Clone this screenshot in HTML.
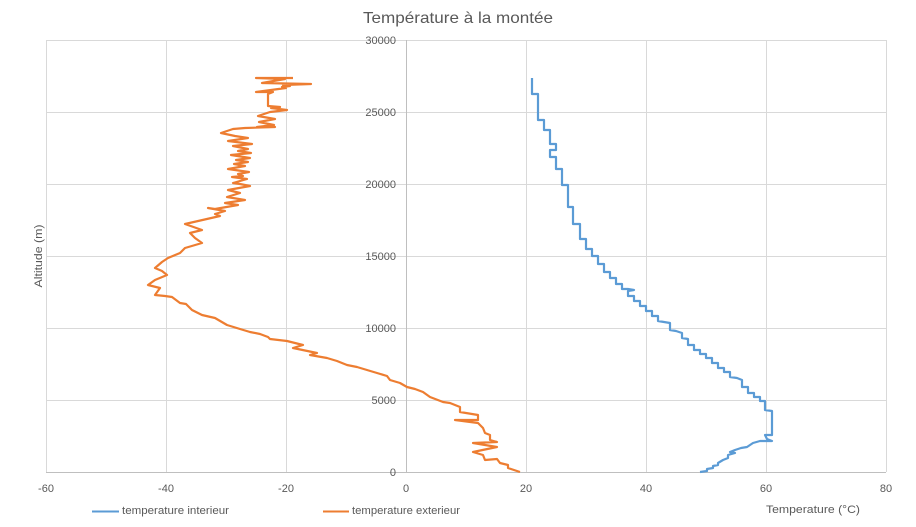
<!DOCTYPE html>
<html><head><meta charset="utf-8"><style>
html,body{margin:0;padding:0;background:#fff;}
svg{display:block;}
text{font-family:"Liberation Sans",Arial,sans-serif;fill:#595959;}
</style></head><body>
<svg width="916" height="527" viewBox="0 0 916 527" xmlns="http://www.w3.org/2000/svg">
<rect width="916" height="527" fill="#fff"/>
<text x="458" y="23" font-size="16" text-anchor="middle" textLength="190" lengthAdjust="spacingAndGlyphs">Température à la montée</text>
<g stroke="#d9d9d9" stroke-width="1" shape-rendering="crispEdges">
<line x1="46" y1="40.5" x2="886" y2="40.5"/>
<line x1="46" y1="112.5" x2="886" y2="112.5"/>
<line x1="46" y1="184.5" x2="886" y2="184.5"/>
<line x1="46" y1="256.5" x2="886" y2="256.5"/>
<line x1="46" y1="328.5" x2="886" y2="328.5"/>
<line x1="46" y1="400.5" x2="886" y2="400.5"/>
<line x1="46.5" y1="40" x2="46.5" y2="472"/>
<line x1="166.5" y1="40" x2="166.5" y2="472"/>
<line x1="286.5" y1="40" x2="286.5" y2="472"/>
<line x1="526.5" y1="40" x2="526.5" y2="472"/>
<line x1="646.5" y1="40" x2="646.5" y2="472"/>
<line x1="766.5" y1="40" x2="766.5" y2="472"/>
<line x1="886.5" y1="40" x2="886.5" y2="472"/>
</g>
<g stroke="#bfbfbf" stroke-width="1" shape-rendering="crispEdges">
<line x1="406.5" y1="40" x2="406.5" y2="472"/>
<line x1="46" y1="472.5" x2="886" y2="472.5"/>
</g>
<g font-size="11" text-anchor="end">
<text x="396" y="44">30000</text>
<text x="396" y="116">25000</text>
<text x="396" y="188">20000</text>
<text x="396" y="260">15000</text>
<text x="396" y="332">10000</text>
<text x="396" y="404">5000</text>
<text x="396" y="476">0</text>
</g>
<g font-size="11" text-anchor="middle">
<text x="46" y="492">-60</text>
<text x="166" y="492">-40</text>
<text x="286" y="492">-20</text>
<text x="406" y="492">0</text>
<text x="526" y="492">20</text>
<text x="646" y="492">40</text>
<text x="766" y="492">60</text>
<text x="886" y="492">80</text>
</g>
<text x="0" y="0" font-size="11" text-anchor="middle" transform="translate(42,256) rotate(-90)" textLength="63" lengthAdjust="spacingAndGlyphs">Altitude (m)</text>
<text x="766" y="513" font-size="11" textLength="94" lengthAdjust="spacingAndGlyphs">Temperature (°C)</text>
<line x1="92" y1="511.5" x2="119" y2="511.5" stroke="#5b9bd5" stroke-width="2"/>
<text x="122" y="514" font-size="11" textLength="107" lengthAdjust="spacingAndGlyphs">temperature interieur</text>
<line x1="323" y1="511.5" x2="349" y2="511.5" stroke="#ed7d31" stroke-width="2"/>
<text x="352" y="514" font-size="11" textLength="108" lengthAdjust="spacingAndGlyphs">temperature exterieur</text>

<polyline fill="none" stroke="#5b9bd5" stroke-width="2.2" stroke-linejoin="round" points="532,78 532,94 538,94 538,120 544,120 544,130 550,130 550,144 556,144 556,150 550,150 550,157 556,157 556,169 562,169 562,185 568,185 568,207 573,207 573,224 580,224 580,239 586,239 586,249 592,249 592,256 598,256 598,264 604,264 604,272 610,272 610,278 616,278 616,284 622,284 622,289 628,289 634,290 628,291 628,296 634,296 634,301 640,301 640,306 646,306 646,311 652,311 652,316 658,316 658,321 664,322 670,323 670,330 676,331 682,333 682,338 688,339 688,345 694,345 694,350 700,350 700,354 706,354 706,358 712,358 712,363 718,363 718,368 724,368 724,372 730,372 730,377 737,378 742,380 742,387 748,387 748,393 754,393 754,397 760,397 760,401 765,401 765,410 772,411 772,435 765,435 767,439 772,441 760,441 753,443 747,447 741,448 735,450 730,452 735,453 728,455 728,458 723,460 718,463 718,465 713,466 713,468 707,469 707,471 700,472"/>

<polyline fill="none" stroke="#ed7d31" stroke-width="2.2" stroke-linejoin="round" points="293,78 256,78 285,79 262,83 311,84 283,85 290,86 282,87 286,88 256,92 273,92 268,94 268,106 280,107 271,108 287,110 270,112 258,116 275,119 259,122 274,125 257,127 275,127 245,128 233,129 221,133 235,136 248,138 228,141 252,144 233,146 248,149 238,151 251,153 231,155 250,158 236,160 248,162 234,164 245,166 228,169 249,172 238,174 243,176 232,177 247,179 233,183 240,184 250,186 228,190 240,193 227,197 245,200 225,203 238,205 215,209 208,208 225,211 215,214 220,216 185,224 202,230 190,233 195,238 202,243 185,248 180,253 168,258 162,262 155,268 162,271 167,275 155,280 148,285 160,288 155,295 165,296 172,297 180,303 186,304 192,310 202,315 215,318 227,325 240,329 250,332 260,334 268,337 270,339 287,341 303,345 293,348 317,353 310,355 327,358 337,361 347,365 357,367 367,370 377,373 387,376 390,380 400,383 407,387 415,389 423,392 430,397 443,402 450,403 460,407 460,412 478,415 478,420 455,420 478,423 483,428 485,433 490,435 490,440 497,442 473,443 497,447 473,452 483,455 485,460 497,459 500,463 508,465 508,468 520,472"/>
</svg>
</body></html>
